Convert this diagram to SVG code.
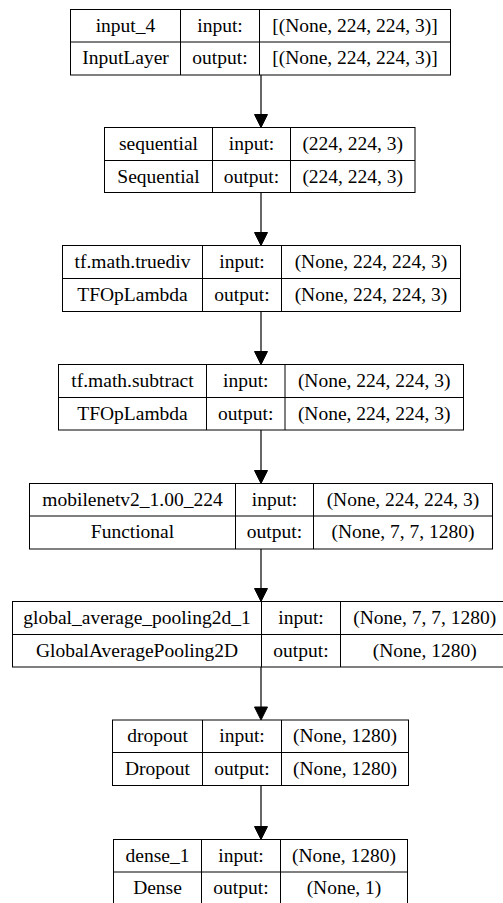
<svg xmlns="http://www.w3.org/2000/svg" width="503" height="903" viewBox="0 0 503 903">
<style>
.b{fill:#fff;stroke:#000;stroke-width:1}
.l{stroke:#000;stroke-width:1;fill:none}
text{font-family:'Liberation Serif','DejaVu Serif',serif;font-size:19.5px;text-anchor:middle;fill:#000}
.e{stroke:#000;stroke-width:1.2;fill:none}
.h{fill:#000;stroke:#000;stroke-width:1}
</style>
<rect width="503" height="903" fill="#fff"/>
<g id="connectors">
<line class="e" x1="261" y1="75" x2="261" y2="114.5"/><polygon class="h" points="254.5,114.5 267.5,114.5 261,127.5"/>
<line class="e" x1="261" y1="192.5" x2="261" y2="232.5"/><polygon class="h" points="254.5,232.5 267.5,232.5 261,245.5"/>
<line class="e" x1="261" y1="311.5" x2="261" y2="351.5"/><polygon class="h" points="254.5,351.5 267.5,351.5 261,364.5"/>
<line class="e" x1="261" y1="430" x2="261" y2="470.5"/><polygon class="h" points="254.5,470.5 267.5,470.5 261,483.5"/>
<line class="e" x1="261" y1="549" x2="261" y2="588.5"/><polygon class="h" points="254.5,588.5 267.5,588.5 261,601.5"/>
<line class="e" x1="261" y1="667" x2="261" y2="707"/><polygon class="h" points="254.5,707 267.5,707 261,720"/>
<line class="e" x1="261" y1="785.5" x2="261" y2="826.5"/><polygon class="h" points="254.5,826.5 267.5,826.5 261,839.5"/>
</g>
<g id="input_4">
<rect class="b" x="70.5" y="9.5" width="380" height="65.5"/>
<line class="l" x1="70.5" y1="42" x2="450.5" y2="42"/>
<line class="l" x1="180.5" y1="9.5" x2="180.5" y2="75"/>
<line class="l" x1="259.5" y1="9.5" x2="259.5" y2="75"/>
<text x="125.5" y="31.5">input_4</text><text x="220" y="31.5">input:</text><text x="355" y="31.5">[(None, 224, 224, 3)]</text>
<text x="125.5" y="64">InputLayer</text><text x="220" y="64">output:</text><text x="355" y="64">[(None, 224, 224, 3)]</text>
</g>
<g id="sequential">
<rect class="b" x="104.5" y="127.5" width="310.5" height="65"/>
<line class="l" x1="104.5" y1="160.5" x2="415" y2="160.5"/>
<line class="l" x1="212.5" y1="127.5" x2="212.5" y2="192.5"/>
<line class="l" x1="290.5" y1="127.5" x2="290.5" y2="192.5"/>
<text x="158.5" y="149.5">sequential</text><text x="251.5" y="149.5">input:</text><text x="352.75" y="149.5">(224, 224, 3)</text>
<text x="158.5" y="182.5">Sequential</text><text x="251.5" y="182.5">output:</text><text x="352.75" y="182.5">(224, 224, 3)</text>
</g>
<g id="truediv">
<rect class="b" x="62.5" y="245.5" width="398" height="66"/>
<line class="l" x1="62.5" y1="278.5" x2="460.5" y2="278.5"/>
<line class="l" x1="202.5" y1="245.5" x2="202.5" y2="311.5"/>
<line class="l" x1="281.5" y1="245.5" x2="281.5" y2="311.5"/>
<text x="132.5" y="267.5">tf.math.truediv</text><text x="242" y="267.5">input:</text><text x="371" y="267.5">(None, 224, 224, 3)</text>
<text x="132.5" y="300.5">TFOpLambda</text><text x="242" y="300.5">output:</text><text x="371" y="300.5">(None, 224, 224, 3)</text>
</g>
<g id="subtract">
<rect class="b" x="58.5" y="364.5" width="405" height="65.5"/>
<line class="l" x1="58.5" y1="397.5" x2="463.5" y2="397.5"/>
<line class="l" x1="206.5" y1="364.5" x2="206.5" y2="430"/>
<line class="l" x1="285" y1="364.5" x2="285" y2="430"/>
<text x="132.5" y="386.5">tf.math.subtract</text><text x="245.75" y="386.5">input:</text><text x="374.25" y="386.5">(None, 224, 224, 3)</text>
<text x="132.5" y="419.5">TFOpLambda</text><text x="245.75" y="419.5">output:</text><text x="374.25" y="419.5">(None, 224, 224, 3)</text>
</g>
<g id="mobilenetv2">
<rect class="b" x="29.5" y="483.5" width="463" height="65.5"/>
<line class="l" x1="29.5" y1="516" x2="492.5" y2="516"/>
<line class="l" x1="235.5" y1="483.5" x2="235.5" y2="549"/>
<line class="l" x1="313.5" y1="483.5" x2="313.5" y2="549"/>
<text x="132.5" y="505.5">mobilenetv2_1.00_224</text><text x="274.5" y="505.5">input:</text><text x="403" y="505.5">(None, 224, 224, 3)</text>
<text x="132.5" y="538">Functional</text><text x="274.5" y="538">output:</text><text x="403" y="538">(None, 7, 7, 1280)</text>
</g>
<g id="gap">
<rect class="b" x="12.5" y="601.5" width="496.5" height="65.5"/>
<line class="l" x1="12.5" y1="634.5" x2="509" y2="634.5"/>
<line class="l" x1="261.5" y1="601.5" x2="261.5" y2="667"/>
<line class="l" x1="340.5" y1="601.5" x2="340.5" y2="667"/>
<text x="137" y="623.5">global_average_pooling2d_1</text><text x="301" y="623.5">input:</text><text x="424.75" y="623.5">(None, 7, 7, 1280)</text>
<text x="137" y="656.5">GlobalAveragePooling2D</text><text x="301" y="656.5">output:</text><text x="424.75" y="656.5">(None, 1280)</text>
</g>
<g id="dropout">
<rect class="b" x="112.5" y="720" width="296" height="65.5"/>
<line class="l" x1="112.5" y1="752.5" x2="408.5" y2="752.5"/>
<line class="l" x1="202.5" y1="720" x2="202.5" y2="785.5"/>
<line class="l" x1="281.5" y1="720" x2="281.5" y2="785.5"/>
<text x="157.5" y="742">dropout</text><text x="242" y="742">input:</text><text x="345" y="742">(None, 1280)</text>
<text x="157.5" y="774.5">Dropout</text><text x="242" y="774.5">output:</text><text x="345" y="774.5">(None, 1280)</text>
</g>
<g id="dense_1">
<rect class="b" x="113.5" y="839.5" width="294" height="65"/>
<line class="l" x1="113.5" y1="872" x2="407.5" y2="872"/>
<line class="l" x1="201.5" y1="839.5" x2="201.5" y2="904.5"/>
<line class="l" x1="280.5" y1="839.5" x2="280.5" y2="904.5"/>
<text x="157.5" y="861.5">dense_1</text><text x="241" y="861.5">input:</text><text x="344" y="861.5">(None, 1280)</text>
<text x="157.5" y="894">Dense</text><text x="241" y="894">output:</text><text x="344" y="894">(None, 1)</text>
</g>
</svg>
